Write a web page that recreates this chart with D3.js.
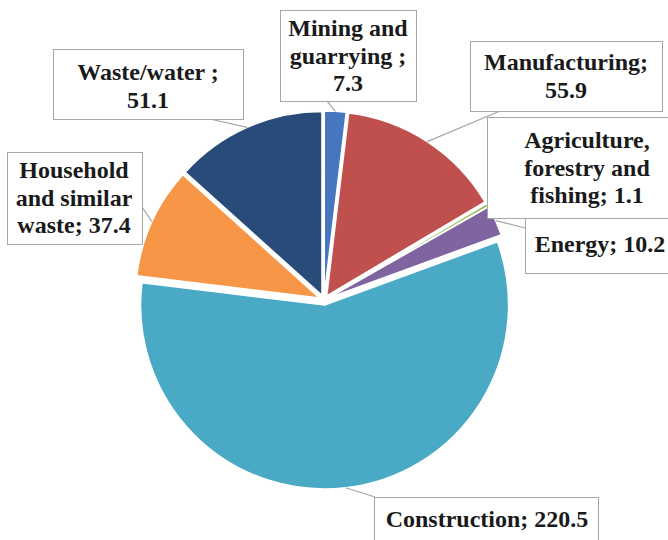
<!DOCTYPE html>
<html>
<head>
<meta charset="utf-8">
<script src="https://cdn.jsdelivr.net/npm/d3@7"></script>
<style>
  svg text { font-family: 'Liberation Serif', 'Times New Roman', Tinos, FreeSerif, serif !important; font-weight: bold !important; }
</style>
</head>
<body style="margin:0">
<svg id="chart" width="668" height="540"></svg>
<script>
// Waste generation by economic activity (clockwise from 12 o'clock)
const categories = [
  "Mining and guarrying",
  "Manufacturing",
  "Agriculture, forestry and fishing",
  "Energy",
  "Construction",
  "Household and similar waste",
  "Waste/water"
];
const values = [7.3, 55.9, 1.1, 10.2, 220.5, 37.4, 51.1];

// Label text, line by line; {v} is replaced by the slice value
const labelLines = [
  ["Mining and", "guarrying ;", "{v}"],
  ["Manufacturing;", "{v}"],
  ["Agriculture,", "forestry and", "fishing; {v}"],
  ["Energy; {v}"],
  ["Construction; {v}"],
  ["Household", "and similar", "waste; {v}"],
  ["Waste/water ;", "{v}"]
];

const colors = ["#4676c0", "#c0504d", "#9bbb59", "#8064a2", "#4aaac6", "#f79646", "#284b7a"];

// Callout boxes: box rect, text centre, first baseline, leader end point
const callouts = [
  { x: 280, y: 10,  w: 136, h: 91,  cx: 348, by: 36,  lx: 327, ly: 101 },
  { x: 470, y: 41,  w: 192, h: 70,  cx: 566, by: 70,  lx: 500, ly: 111 },
  { x: 487, y: 117, w: 200, h: 101, cx: 587, by: 148, lx: 525, ly: 218 },
  { x: 525, y: 218, w: 160, h: 55,  cx: 600, by: 252, lx: 525, ly: 228 },
  { x: 374, y: 497, w: 224, h: 60,  cx: 487, by: 527, lx: 375, ly: 497 },
  { x: 7,   y: 152, w: 135, h: 92,  cx: 74,  by: 178, lx: 142, ly: 207 },
  { x: 53,  y: 49,  w: 190, h: 70,  cx: 148, by: 80,  lx: 210, ly: 119 }
];
const lineStep = 27.5;

const cx = 324, cy = 300, radius = 184, explode = 5;

const svg = d3.select("#chart");

const data = categories.map((c, i) => ({ name: c, value: values[i], i }));
const pie = d3.pie().value(d => d.value).sort(null);
const arcs = pie(data);
const arc = d3.arc().innerRadius(0).outerRadius(radius);

function offset(d, dist) {
  const a = (d.startAngle + d.endAngle) / 2;
  return [Math.sin(a) * dist, -Math.cos(a) * dist];
}

// Slices, each pushed slightly outward along its mid-angle
svg.selectAll("path.slice")
  .data(arcs)
  .join("path")
  .attr("class", "slice")
  .attr("d", arc)
  .attr("transform", d => { const [dx, dy] = offset(d, explode); return `translate(${cx + dx},${cy + dy})`; })
  .attr("fill", d => colors[d.data.i])
  .attr("stroke", "#ffffff")
  .attr("stroke-width", 1.5)
  .attr("stroke-linejoin", "round");

// Leader lines from each slice rim to its callout
svg.selectAll("line.leader")
  .data(arcs)
  .join("line")
  .attr("class", "leader")
  .attr("x1", d => cx + offset(d, radius + explode)[0])
  .attr("y1", d => cy + offset(d, radius + explode)[1])
  .attr("x2", d => callouts[d.data.i].lx)
  .attr("y2", d => callouts[d.data.i].ly)
  .attr("stroke", "#a6a6a6")
  .attr("stroke-width", 1.2);

// Callout boxes
svg.selectAll("rect.callout")
  .data(arcs)
  .join("rect")
  .attr("class", "callout")
  .attr("x", d => callouts[d.data.i].x + 0.5)
  .attr("y", d => callouts[d.data.i].y + 0.5)
  .attr("width", d => callouts[d.data.i].w)
  .attr("height", d => callouts[d.data.i].h)
  .attr("fill", "#ffffff")
  .attr("stroke", "#a6a6a6")
  .attr("stroke-width", 1);

// Callout text, one element per line
const textRows = arcs.flatMap(d => {
  const c = callouts[d.data.i];
  return labelLines[d.data.i].map((s, k) => ({
    text: s.replace("{v}", d3.format(".1f")(d.data.value)),
    x: c.cx,
    y: c.by + k * lineStep
  }));
});

svg.selectAll("text")
  .data(textRows)
  .join("text")
  .attr("font-family", "Liberation Serif")
  .attr("font-weight", "bold")
  .attr("font-size", 24)
  .attr("fill", "#1a1a1a")
  .attr("x", r => r.x)
  .attr("y", r => r.y)
  .attr("text-anchor", "middle")
  .text(r => r.text);
</script>
</body>
</html>
